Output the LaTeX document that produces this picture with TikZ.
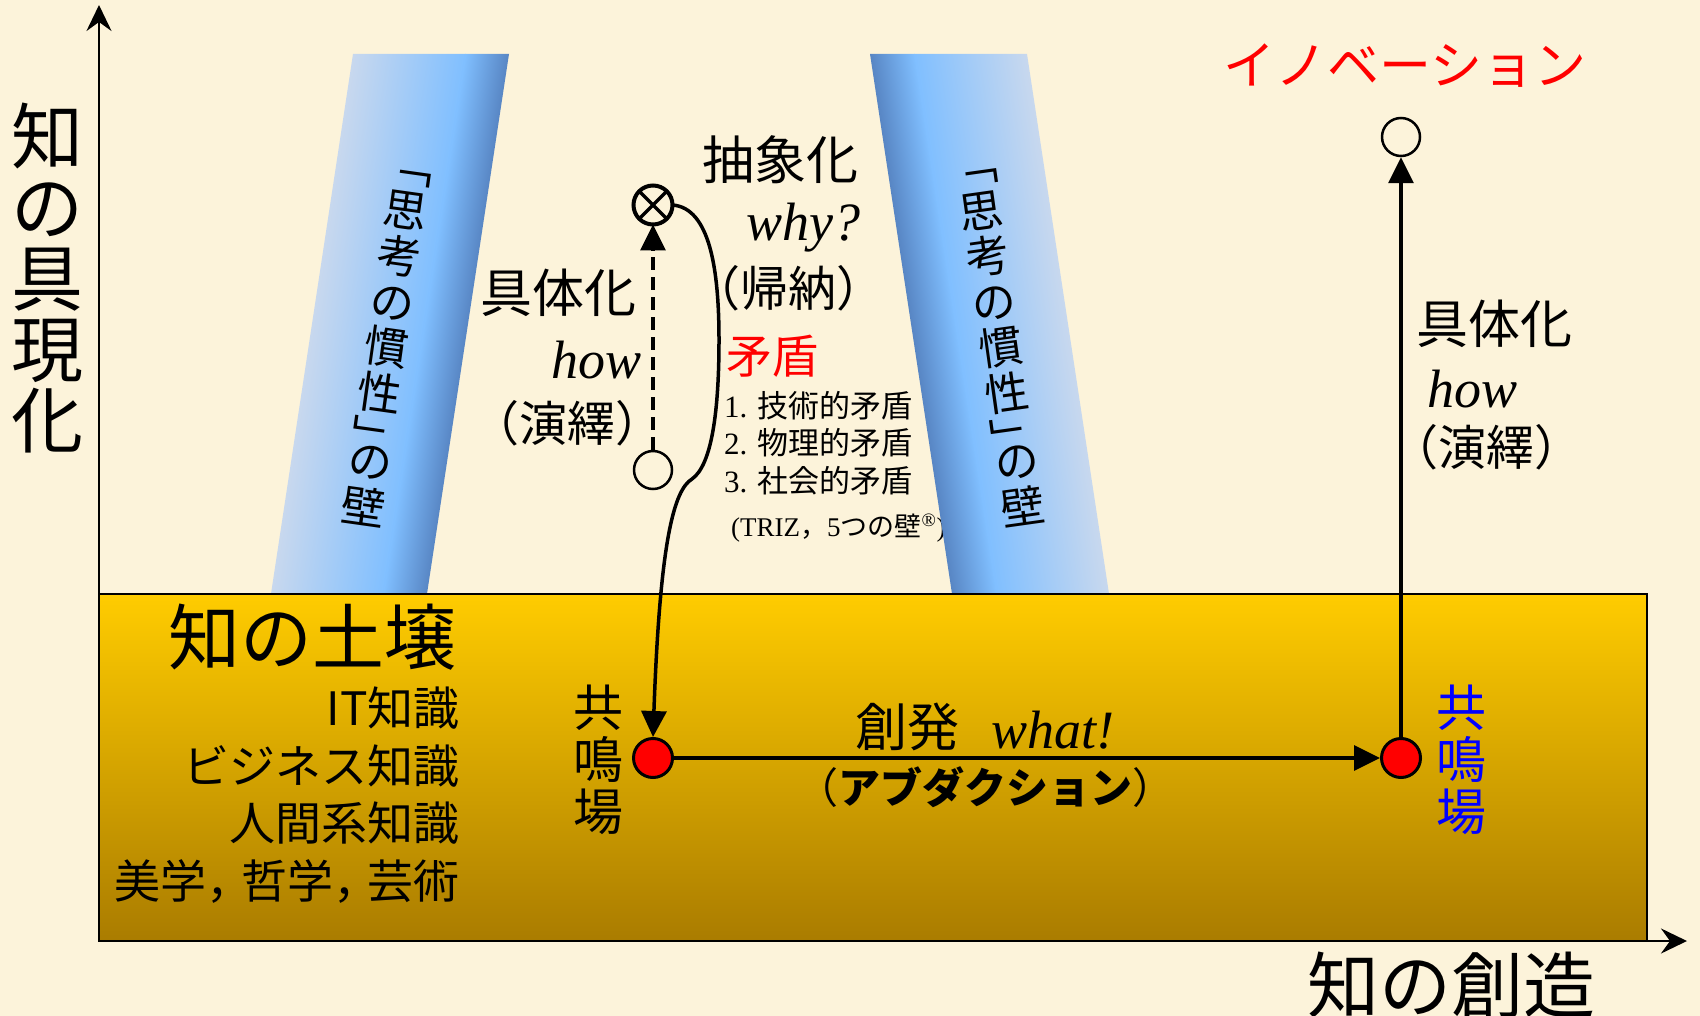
\documentclass[tikz,border=0pt]{standalone}
\usepackage{fontspec}
\setmainfont{Noto Sans CJK JP}
\newfontfamily\tms{Liberation Serif}
\usetikzlibrary{arrows.meta}
\definecolor{bgcol}{RGB}{252,243,218}
\definecolor{wlight}{RGB}{200,216,238}
\definecolor{wmid}{RGB}{128,191,255}
\definecolor{wdark}{RGB}{88,134,196}
\definecolor{soiltop}{RGB}{255,204,0}
\definecolor{soilbot}{RGB}{170,124,0}
\newcommand\narrowcomma{\makebox[0.75em][l]{，}}
\newcommand\tightlines{\lineskiplimit=-1000pt\relax}
\tikzset{
        jtxt/.style args={#1/#2}{font=\fontsize{#1}{#2}\selectfont},
        itx/.style={font=\tms\itshape\fontsize{54}{54}\selectfont},
        boldtxt/.style={font=\fontsize{42}{42}\selectfont\bfseries},
        walltxt/.style={align=center, font=\fontsize{44}{46}\selectfont\tightlines},
        axis/.style={line width=2.8pt, -{Stealth[length=26pt,width=25pt,inset=9pt]}},
        flow/.style={line width=3.5pt, -{Triangle[length=26pt,width=25pt]}},
        dashflow/.style={flow, dash pattern=on 13pt off 7pt},
        reddot/.style={circle, fill=red, draw=black, line width=3pt, minimum size=39pt},
        opencirc/.style={circle, draw=black, line width=2.5pt, minimum size=38pt},
        crosscirc/.style={circle, draw=black, line width=4pt, minimum size=39pt, outer sep=0pt}
          }
\begin{document}
\begin{tikzpicture}
        [x=1pt, y=-1pt,
        every node/.style={inner sep=0pt},
        ]
        \useasboundingbox (0,0) rectangle (1700,1016);
        \fill[bgcol] (0,0) rectangle (1700,1016);

        % axis labels
        \node[jtxt=72/71, align=center] (ylab) at (47,278) {知\\の\\具\\現\\化};
        \node[jtxt=72/72] (xlab) at (1451,985) {知の創造};
        \node[jtxt=52/52, text=red] (innovtxt) at (1405,66) {イノベーション};

        % upper labels
        \node[jtxt=52/52] (concL) at (558,293) {具体化};
        \node[itx] (howL) at (597,360) {how};
        \node[jtxt=48/48] (dedL) at (567,423) {（演繹）};
        \node[jtxt=52/52] (abstxt) at (780,160) {抽象化};
        \node[itx] (why) at (803,228) {why?};
        \node[jtxt=48/48] (ind) at (788,288) {（帰納）};
        \node[jtxt=46/46, text=red] (contra) at (772,356) {矛盾};
        \node[jtxt=31/37.5, align=left, anchor=west] (clist) at (724,443)
          {{\tms 1. }技術的矛盾\\{\tms 2. }物理的矛盾\\{\tms 3. }社会的矛盾};
        \node[jtxt=27/27, anchor=base west] (triz) at (731,536)
          {\tms (TRIZ{\rmfamily ，}5{\rmfamily つの壁}\textsuperscript{®})};
        \node[jtxt=52/52] (concR) at (1494,324) {具体化};
        \node[itx] (howR) at (1472,389) {how};
        \node[jtxt=48/48] (dedR) at (1486,447) {（演繹）};

        % walls
        \begin{scope}[transform canvas={xslant=0.1519}]
          \shade[left color=wlight, right color=wmid] (361.2,54) rectangle (474,594);
          \shade[left color=wmid, right color=wdark] (473.5,54) rectangle (517.2,594);
        \end{scope}
        \begin{scope}[transform canvas={xslant=-0.1519}]
          \shade[left color=wdark, right color=wmid] (861.8,54) rectangle (906.3,594);
          \shade[left color=wmid, right color=wlight] (905.8,54) rectangle (1018.8,594);
        \end{scope}
        \node[walltxt, rotate=-8] (wallL) at (388,336)
          {\vphantom{思}﹁\\思\\考\\の\\慣\\性\\﹂\\[-23pt]の\\壁};
        \node[walltxt, rotate=8] (wallR) at (999,336)
          {\vphantom{思}﹁\\思\\考\\の\\慣\\性\\﹂\\[-23pt]の\\壁};

        % soil
        \shadedraw[top color=soiltop, bottom color=soilbot, draw=black, line width=2pt]
          (99,594) rectangle (1647,941);
        \node[jtxt=72/72] (soil) at (312,637) {知の土壌};
        \node[jtxt=46/57.7, align=right, anchor=east] (soillist) at (460,795)
          {IT知識\\ビジネス知識\\人間系知識\\美学\narrowcomma 哲学\narrowcomma 芸術};
        \node[jtxt=50/52, align=center] (resLtxt) at (598,760) {共\\鳴\\場};
        \node[jtxt=50/52, align=center, text=blue] (resRtxt) at (1461,760) {共\\鳴\\場};
        \node[jtxt=52/52] (emerge) at (907,727) {創発};
        \node[itx] (what) at (1053,730) {what!};
        \node[boldtxt] (abd) at (985,787) {{\mdseries （}アブダクション{\mdseries ）}};

        % points
        \node[reddot] (resL) at (653,758) {};
        \node[reddot] (resR) at (1401,758) {};
        \node[opencirc] (conc) at (653,470) {};
        \node[crosscirc] (abst) at (653,205) {};
        \node[opencirc] (innov) at (1401,137) {};
        \draw[line width=3.5pt] (abst.45) -- (abst.225) (abst.135) -- (abst.315);

        % arrows
        \draw[dashflow] (conc) -- (abst);
        \draw[flow] (abst.east) .. controls (710,208) and (719,270) .. (719,340)
          .. controls (719,410) and (712,465) .. (692,479)
          .. controls (674,490) and (660,540) .. (resL.north);
        \draw[flow] (resL) -- (resR);
        \draw[flow] (resR) -- (innov);

        % axes
        \coordinate (orig) at (99,941);
        \coordinate (ytop) at (99,5);
        \coordinate (xend) at (1687,941);
        \draw[axis] (orig) -- (ytop);
        \draw[axis] (orig) -- (xend);
\end{tikzpicture}
\end{document}
